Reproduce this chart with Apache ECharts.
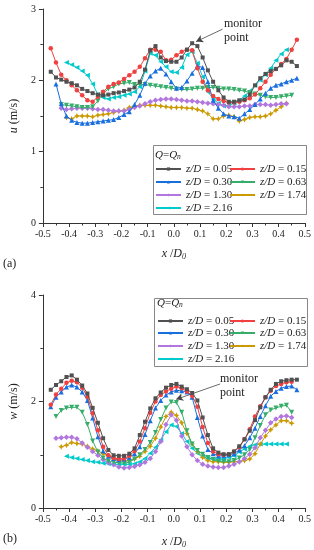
<!DOCTYPE html>
<html><head><meta charset="utf-8">
<script src="https://cdn.jsdelivr.net/npm/echarts@6/dist/echarts.min.js"></script>
<style>html,body{margin:0;padding:0;background:#fff}#c{width:314px;height:550px}</style>
</head><body><div id="c"></div>
<script>
const X = [-0.47,-0.45,-0.43,-0.41,-0.39,-0.37,-0.35,-0.33,
 -0.31,-0.29,-0.27,-0.25,-0.23,-0.21,-0.19,-0.17,
 -0.15,-0.13,-0.11,-0.09,-0.07,-0.05,-0.03,-0.01,
 0.01,0.03,0.05,0.07,0.09,0.11,0.13,0.15,
 0.17,0.19,0.21,0.23,0.25,0.27,0.29,0.31,
 0.33,0.35,0.37,0.39,0.41,0.43,0.45,0.47];
const seriesNames = ['z/D = 0.05','z/D = 0.15','z/D = 0.30','z/D = 0.63','z/D = 1.30','z/D = 1.74','z/D = 2.16'];
const xTicks = [-0.5,-0.4,-0.3,-0.2,-0.1,0.0,0.1,0.2,0.3,0.4,0.5];
const uTicks = [0,1,2,3];
const wTicks = [0,2,4];

// (a) u (m/s)
const u005 = [2.12,2.04,2.01,1.98,1.96,1.93,1.88,1.85,
 1.82,1.80,1.79,1.80,1.82,1.83,1.85,1.87,
 1.90,1.98,2.15,2.42,2.48,2.32,2.27,2.26,
 2.26,2.32,2.43,2.52,2.48,2.32,2.14,1.98,
 1.86,1.76,1.70,1.70,1.72,1.73,1.80,1.93,
 2.03,2.09,2.13,2.16,2.21,2.28,2.26,2.20];
const u015 = [2.45,2.25,2.08,2.00,1.93,1.86,1.79,1.72,
 1.70,1.77,1.84,1.91,1.95,1.97,2.02,2.07,
 2.12,2.19,2.31,2.43,2.43,2.40,2.28,2.29,
 2.35,2.40,2.43,2.42,2.17,1.98,1.86,1.78,
 1.74,1.71,1.69,1.69,1.70,1.72,1.75,1.80,
 1.89,1.98,2.08,2.16,2.23,2.30,2.43,2.57];
const u030 = [null,1.95,1.67,1.50,1.44,1.41,1.40,1.40,
 1.41,1.42,1.43,1.44,1.45,1.48,1.52,1.56,
 1.66,1.79,1.96,2.06,2.13,2.17,2.09,1.98,
 1.89,1.90,1.99,2.10,2.20,2.18,1.98,1.72,
 1.61,1.53,1.50,1.49,1.47,1.53,1.59,1.66,
 1.74,1.82,1.89,1.93,1.95,1.98,2.00,2.03];
const u063 = [null,null,1.66,1.65,1.64,1.63,1.62,1.62,
 1.63,1.71,1.82,1.88,1.91,1.95,1.96,1.97,
 1.94,1.94,1.94,1.93,1.92,1.91,1.90,1.89,
 1.88,1.87,1.87,1.88,1.89,1.89,1.90,1.90,
 1.89,1.88,1.88,1.87,1.86,1.85,1.83,1.81,
 1.79,1.77,1.76,1.76,1.77,1.78,1.79,null];
const u130 = [null,null,1.61,1.59,1.60,1.61,1.61,1.61,
 1.60,1.59,1.59,1.58,1.57,1.57,1.57,1.59,
 1.62,1.64,1.67,1.70,1.72,1.73,1.74,1.74,
 1.73,1.72,1.71,1.71,1.70,1.69,1.68,1.67,
 1.66,1.65,1.63,1.63,1.63,1.64,1.64,1.66,
 1.66,1.66,1.65,1.66,1.67,1.67,null,null];
const u174 = [null,null,null,1.48,1.46,1.50,1.50,1.50,
 1.49,1.51,1.52,1.53,1.55,1.57,1.58,1.62,
 1.64,1.65,1.65,1.65,1.65,1.64,1.63,1.62,
 1.62,1.62,1.61,1.61,1.59,1.57,1.53,1.46,
 1.46,1.50,1.51,1.49,1.43,1.45,1.48,1.49,
 1.49,1.50,1.53,1.58,1.63,1.68,null,null];
const u216 = [null,null,null,2.25,2.22,2.18,2.13,2.07,
 1.95,1.80,1.76,1.74,1.76,1.77,1.79,1.81,
 1.84,1.91,2.13,2.38,2.35,2.26,2.19,2.12,
 2.11,2.18,2.36,2.40,2.24,2.05,1.84,1.74,
 1.68,1.64,1.65,1.68,1.72,1.78,1.85,1.93,
 2.00,2.08,2.17,2.28,2.37,2.43,null,null];

// (b) w (m/s)
const w005 = [2.22,2.31,2.38,2.46,2.49,2.41,2.30,2.15,
 1.88,1.60,1.31,1.09,0.99,0.98,0.98,1.02,
 1.12,1.37,1.62,1.87,2.06,2.17,2.26,2.31,
 2.33,2.28,2.23,2.16,2.02,1.70,1.37,1.12,
 1.04,1.01,1.01,1.06,1.16,1.29,1.45,1.65,
 1.89,2.08,2.22,2.33,2.38,2.40,2.41,2.41];
const w015 = [1.94,2.13,2.24,2.35,2.39,2.36,2.26,2.09,
 1.78,1.46,1.15,0.99,0.94,0.92,0.93,0.98,
 1.07,1.25,1.50,1.79,2.00,2.12,2.19,2.24,
 2.28,2.25,2.19,2.11,1.90,1.52,1.22,1.06,
 1.01,1.00,1.01,1.06,1.14,1.29,1.48,1.72,
 1.91,2.08,2.20,2.29,2.33,2.36,2.37,null];
const w030 = [1.90,2.08,2.18,2.27,2.31,2.27,2.18,2.02,
 1.69,1.34,1.07,0.97,0.93,0.91,0.92,0.95,
 1.02,1.15,1.38,1.64,1.88,2.02,2.12,2.18,
 2.21,2.20,2.18,2.08,1.70,1.35,1.10,1.02,
 0.98,0.98,1.00,1.02,1.09,1.17,1.32,1.50,
 1.72,1.92,2.10,2.19,2.25,2.28,2.29,2.22];
const w063 = [null,1.72,1.83,1.88,1.89,1.89,1.80,1.57,
 1.26,1.05,0.94,0.88,0.86,0.85,0.84,0.86,
 0.92,1.00,1.10,1.23,1.42,1.66,1.88,1.99,
 1.98,1.80,1.45,1.20,1.08,1.01,0.95,0.91,
 0.88,0.87,0.87,0.89,0.94,1.00,1.10,1.32,
 1.55,1.75,1.84,1.88,1.91,1.93,1.80,null];
const w130 = [null,1.31,1.32,1.33,1.33,1.30,1.22,1.14,
 1.06,0.99,0.91,0.85,0.81,0.77,0.75,0.76,
 0.78,0.81,0.86,0.93,1.06,1.25,1.57,1.75,
 1.65,1.35,1.15,1.00,0.89,0.82,0.79,0.77,
 0.76,0.76,0.79,0.82,0.87,0.93,1.01,1.13,
 1.32,1.46,1.60,1.67,1.72,1.73,1.70,null];
const w174 = [null,null,1.15,1.18,1.23,1.21,1.20,1.16,
 1.11,1.07,1.02,0.98,0.93,0.89,0.88,0.89,
 0.92,0.97,1.06,1.16,1.31,1.52,1.72,1.80,
 1.74,1.60,1.40,1.20,1.06,0.95,0.89,0.87,
 0.87,0.86,0.86,0.87,0.87,0.89,0.92,1.02,
 1.20,1.35,1.47,1.56,1.64,1.64,1.59,null];
const w216 = [null,null,null,0.97,0.95,0.93,0.91,0.89,
 0.87,0.86,0.84,0.83,0.82,0.82,0.82,0.82,
 0.83,0.87,0.93,1.03,1.14,1.28,1.43,1.56,
 1.53,1.40,1.25,1.12,1.03,0.97,0.93,0.92,
 0.92,0.92,0.95,0.98,1.05,1.11,1.16,1.19,
 1.20,1.20,1.20,1.20,1.20,1.20,null,null];

const uSets = [u005,u015,u030,u063,u130,u174,u216];
const wSets = [w005,w015,w030,w063,w130,w174,w216];

const FONT = 'Liberation Serif';
const colors = ['#515151','#F14040','#1A6FDF','#37AD6B','#B177DE','#CC9900','#00CBCC'];
const STAR = 'path://M0,-1L0.32,-0.32L1,0L0.32,0.32L0,1L-0.32,0.32L-1,0L-0.32,-0.32Z';
const marks = [
  {symbol:'rect', size:4, rot:0},
  {symbol:'circle', size:4.5, rot:0},
  {symbol:'triangle', size:5, rot:0},
  {symbol:'triangle', size:5, rot:180},
  {symbol:'diamond', size:5.5, rot:0},
  {symbol:STAR, size:6, rot:0},
  {symbol:'triangle', size:5, rot:90}
];

function xAxisDef(gi, gap){
  return {
    type:'value', gridIndex:gi, min:-0.5, max:0.5, interval:0.1,
    axisLine:{show:true, onZero:false, lineStyle:{color:'#333', width:1}},
    axisTick:{show:true, length:4, lineStyle:{color:'#333'}},
    minorTick:{show:true, splitNumber:2, length:2.5, lineStyle:{color:'#333'}},
    splitLine:{show:false},
    axisLabel:{margin:6, color:'#222', fontSize:10, fontFamily:FONT,
      formatter:v => (Math.abs(v)<1e-9 ? '0.0' : v.toFixed(1))},
    name:'{i|x} /{i|D}{s|0}', nameLocation:'middle', nameGap:gap,
    nameTextStyle:{color:'#222', fontSize:12, fontFamily:FONT,
      rich:{i:{fontStyle:'italic', fontSize:12, fontFamily:FONT, color:'#222'},
            s:{fontStyle:'italic', fontSize:8, fontFamily:FONT, color:'#222', padding:[6,0,0,0]}}}
  };
}
function yAxisDef(gi, max, interval, nm, gap){
  return {
    type:'value', gridIndex:gi, min:0, max:max, interval:interval,
    axisLine:{show:true, onZero:false, lineStyle:{color:'#333', width:1}},
    axisTick:{show:true, length:4, lineStyle:{color:'#333'}},
    minorTick:{show:true, splitNumber:2, length:2.5, lineStyle:{color:'#333'}},
    splitLine:{show:false},
    axisLabel:{margin:7, color:'#222', fontSize:10, fontFamily:FONT},
    name:'{i|'+nm+'} (m/s)', nameLocation:'middle', nameGap:gap,
    nameTextStyle:{color:'#222', fontSize:12, fontFamily:FONT,
      rich:{i:{fontStyle:'italic', fontSize:12, fontFamily:FONT, color:'#222'}}}
  };
}

const series = [];
[uSets, wSets].forEach((sets, gi) => {
  sets.forEach((ys, k) => {
    const data = [];
    X.forEach((x, i) => { if (ys[i] != null) data.push([x, ys[i]]); });
    const s = {
      name: seriesNames[k], type:'line', xAxisIndex:gi, yAxisIndex:gi,
      data: data, symbol: marks[k].symbol, symbolSize: marks[k].size, symbolRotate: marks[k].rot,
      showSymbol:true, color: colors[k],
      lineStyle:{width:1, color:colors[k]}, itemStyle:{color:colors[k]},
      z: 2 + (6-k), animation:false
    };
    if (k === 0) {
      const mc = gi === 0 ? [[0.186,2.717],[0.085,2.543]] : [[0.177,2.33],[0.009,2.04]];
      s.markLine = {silent:true, symbol:['none','arrow'], symbolSize:[6,7], animation:false,
        label:{show:false}, lineStyle:{color:'#444', width:0.8, type:'solid'},
        data:[[{coord:mc[0]},{coord:mc[1]}]]};
    }
    series.push(s);
  });
});

// legends: one component per entry so the two-column box layout can be placed
const legendRich = {i:{fontStyle:'italic', fontSize:11, fontFamily:FONT, color:'#222'}};
function legendAt(name, left, top){
  return {data:[name], left:left, top:top, padding:0, itemWidth:25, itemHeight:4,
    itemGap:0, selectedMode:false,
    formatter: n => '{i|z/D} ' + n.slice(4),
    textStyle:{fontSize:11, fontFamily:FONT, color:'#222', lineHeight:12, rich:legendRich}};
}
const legends = [];
const topRows = [169,182,195,208], botRows = [321,333,346,359];
seriesNames.forEach((n,k) => {
  const r = Math.floor(k/2), c = k%2;
  legends.push(legendAt(n, c===0?155:229, topRows[r]-6));
  legends.push(legendAt(n, c===0?157:229, botRows[r]-6));
});

const qRich = {i:{fontStyle:'italic', fontSize:11, fontFamily:FONT, fill:'#222'},
               s:{fontStyle:'italic', fontSize:7.5, fontFamily:FONT, fill:'#222', padding:[5,0,0,0]}};
const graphic = [
  {type:'rect', shape:{x:153.5, y:145.5, width:153, height:69}, style:{fill:'none', stroke:'#888', lineWidth:1}},
  {type:'rect', shape:{x:154.5, y:298.5, width:153, height:68}, style:{fill:'none', stroke:'#888', lineWidth:1}},
  {type:'text', x:155, y:155, style:{text:'{i|Q}={i|Q}{s|n}', rich:qRich, fontSize:11, fontFamily:FONT, fill:'#222', verticalAlign:'middle'}},
  {type:'text', x:157, y:303, style:{text:'{i|Q}={i|Q}{s|n}', rich:qRich, fontSize:11, fontFamily:FONT, fill:'#222', verticalAlign:'middle'}},
  {type:'text', x:224, y:17, style:{text:'monitor\npoint', fontSize:12, lineHeight:14, fontFamily:FONT, fill:'#222'}},
  {type:'text', x:220, y:372, style:{text:'monitor\npoint', fontSize:12, lineHeight:14, fontFamily:FONT, fill:'#222'}},
  {type:'text', x:3, y:258, style:{text:'(a)', fontSize:12, fontFamily:FONT, fill:'#222'}},
  {type:'text', x:3, y:533, style:{text:'(b)', fontSize:12, fontFamily:FONT, fill:'#222'}}
];

const option = {
  animation:false,
  backgroundColor:'#fff',
  grid:[{left:40, right:9, top:9, height:214}, {left:40, right:9, top:295, height:214}],
  xAxis:[xAxisDef(0, 24), xAxisDef(1, 27)],
  yAxis:[yAxisDef(0, 3, 1, 'u', 19), yAxisDef(1, 4, 2, 'w', 20)],
  legend: legends,
  graphic: graphic,
  series: series
};
const chart = echarts.init(document.getElementById('c'), null, {renderer:'canvas'});
chart.setOption(option);
</script></body></html>
